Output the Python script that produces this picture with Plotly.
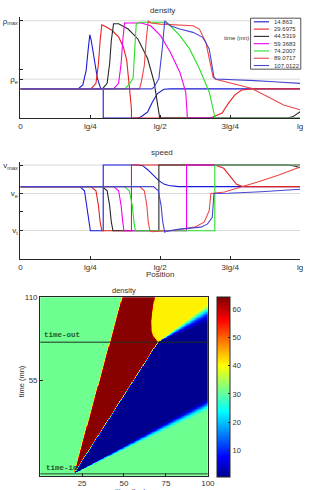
import numpy as np
import plotly.graph_objects as go

W, H = 310, 490
def fx(p):  # pixel -> paper x
    return p / W
def fy(p):  # pixel -> paper y
    return 1 - p / H

# ---------------- data ----------------
times = ["14.863", "29.6975", "44.5319", "59.3683", "74.2007", "89.0717", "107.0122"]
colors = ["rgb(25,25,215)", "rgb(228,35,35)", "rgb(40,40,40)", "rgb(240,0,240)",
          "rgb(40,225,40)", "rgb(236,70,70)", "rgb(70,70,212)"]

x_ticks = [0, 0.25, 0.5, 0.75, 1.0]
x_ticktext = ["0", "lg/4", "lg/2", "3lg/4", "lg"]

# density profiles (x as fraction of lg, density as fraction of rho_max)
rho_x = [
    [0, 0.206, 0.223, 0.235, 0.242, 0.248, 0.253, 0.264, 0.275, 0.285, 0.288, 0.296, 0.296, 0.42, 0.432, 0.455, 0.472, 0.49, 0.513, 0.536, 1.0],
    [0, 0.252, 0.270, 0.279, 0.285, 0.291, 0.304, 0.328, 0.351, 0.368, 0.380, 0.388, 0.394, 0.397, 0.397, 0.68, 0.692, 0.721, 0.744, 0.767, 0.791, 0.825, 1.0],
    [0, 0.293, 0.310, 0.319, 0.325, 0.333, 0.351, 0.385, 0.420, 0.455, 0.478, 0.492, 0.498, 0.498, 0.955, 0.975, 1.0],
    [0, 0.333, 0.351, 0.360, 0.366, 0.372, 0.385, 0.432, 0.466, 0.501, 0.536, 0.570, 0.591, 0.596, 0.597, 1.0],
    [0, 0.374, 0.391, 0.403, 0.409, 0.414, 0.426, 0.513, 0.536, 0.570, 0.605, 0.640, 0.675, 0.692, 0.695, 0.696, 1.0],
    [0, 0.426, 0.432, 0.443, 0.449, 0.457, 0.466, 0.501, 0.617, 0.640, 0.663, 0.681, 0.689, 0.698, 0.767, 0.825, 0.883, 0.941, 1.0],
    [0, 0.470, 0.478, 0.495, 0.507, 0.516, 0.536, 0.570, 0.617, 0.652, 0.675, 0.686, 0.692, 0.698, 0.767, 0.837, 0.906, 1.0],
]
rho_y = [
    [0.30, 0.30, 0.34, 0.49, 0.70, 0.857, 0.80, 0.595, 0.41, 0.32, 0.30, 0.30, 0.0, 0.0, 0.013, 0.064, 0.166, 0.252, 0.296, 0.30, 0.30],
    [0.30, 0.30, 0.357, 0.561, 0.80, 0.959, 0.942, 0.90, 0.834, 0.73, 0.595, 0.39, 0.187, 0.085, 0.0, 0.0, 0.017, 0.051, 0.153, 0.238, 0.289, 0.30, 0.30],
    [0.30, 0.30, 0.357, 0.561, 0.80, 0.969, 0.969, 0.915, 0.813, 0.609, 0.37, 0.133, 0.013, 0.0, 0.0, 0.015, 0.065],
    [0.30, 0.30, 0.357, 0.561, 0.80, 0.976, 0.977, 0.977, 0.949, 0.847, 0.677, 0.472, 0.268, 0.013, 0.0, 0.0],
    [0.30, 0.30, 0.357, 0.408, 0.714, 0.966, 0.985, 0.985, 0.949, 0.847, 0.711, 0.507, 0.268, 0.064, 0.013, 0.0, 0.0],
    [0.30, 0.30, 0.37, 0.54, 0.779, 1.0, 0.977, 0.966, 0.949, 0.915, 0.779, 0.541, 0.421, 0.398, 0.35, 0.306, 0.221, 0.134, 0.085],
    [0.30, 0.30, 0.319, 0.405, 0.711, 1.0, 0.949, 0.915, 0.881, 0.83, 0.711, 0.541, 0.421, 0.401, 0.395, 0.385, 0.374, 0.357],
]

# speed profiles (x as fraction of lg, speed as fraction of v_max)
v_x = [
    [0, 0.212, 0.229, 0.237, 0.244, 0.25, 0.296, 0.296, 0.42, 0.4375, 0.455, 0.472, 0.495, 0.513, 0.53, 0.565, 1.0],
    [0, 0.252, 0.270, 0.279, 0.285, 0.291, 0.397, 0.397, 0.691, 0.698, 0.727, 0.75, 0.773, 0.796, 1.0],
    [0, 0.293, 0.310, 0.319, 0.325, 0.331, 0.495, 0.495, 0.955, 0.98, 1.0],
    [0, 0.333, 0.351, 0.360, 0.366, 0.370, 0.594, 0.594, 1.0],
    [0, 0.372, 0.389, 0.400, 0.406, 0.411, 0.695, 0.695, 1.0],
    [0, 0.426, 0.443, 0.452, 0.457, 0.463, 0.47, 0.55, 0.623, 0.657, 0.675, 0.681, 0.73, 0.795, 0.854, 0.924, 1.0],
    [0, 0.476, 0.493, 0.503, 0.509, 0.516, 0.524, 0.576, 0.646, 0.669, 0.686, 0.692, 0.744, 0.86, 1.0],
]
v_y = [
    [0.77, 0.77, 0.726, 0.567, 0.391, 0.30, 0.30, 1.0, 1.0, 0.993, 0.95, 0.90, 0.834, 0.797, 0.781, 0.77, 0.77],
    [0.77, 0.77, 0.726, 0.567, 0.391, 0.30, 0.30, 1.0, 1.0, 0.997, 0.965, 0.884, 0.795, 0.77, 0.77],
    [0.77, 0.77, 0.726, 0.567, 0.391, 0.30, 0.30, 1.0, 1.0, 0.99, 0.97],
    [0.77, 0.77, 0.726, 0.567, 0.391, 0.30, 0.30, 1.0, 1.0],
    [0.77, 0.77, 0.726, 0.567, 0.391, 0.30, 0.30, 1.0, 1.0],
    [0.77, 0.77, 0.726, 0.567, 0.391, 0.30, 0.29, 0.305, 0.338, 0.391, 0.514, 0.697, 0.713, 0.768, 0.825, 0.894, 0.978],
    [0.77, 0.77, 0.726, 0.567, 0.391, 0.285, 0.296, 0.32, 0.338, 0.373, 0.443, 0.697, 0.70, 0.715, 0.742],
]

rho_levels = [0.40, 1.0]          # rho_e, rho_max gridlines
rho_tickvals = [0.40, 1.0]
rho_ticktext = ["ρ<sub>e</sub>", "ρ<sub>max</sub>"]
v_levels = [0.303, 0.697, 1.0]    # v_t, v_e, v_max gridlines
v_tickvals = [0.303, 0.697, 1.0]
v_ticktext = ["v<sub>t</sub>", "v<sub>e</sub>", "v<sub>max</sub>"]
mid_tick = [0.5]

# heatmap (space-time density)
rho_free = 31.0
rho_jam = 64.0
time_in = -6.8
time_out = 80.3
jam_edge_time = [-6.8, 110.0]
jam_edge_pos = [20.1, 49.0]
vehicle_time = [-6.8, 80.3]
vehicle_pos = [20.1, 70.3]
release_edge_time = [80.3, 84.2, 87.5, 94.1, 100.6, 110.0]
release_edge_pos = [70.3, 67.6, 66.6, 66.4, 67.0, 68.3]
front_fan_speed = [1.58, 1.64, 1.70, 1.77, 1.84, 1.92]
front_fan_rho = [0.7, 3.0, 10.0, 20.0, 27.0, 31.0]
release_fan_speed = [1.15, 1.25, 1.43, 1.60, 1.85, 2.30]
release_fan_rho = [41.0, 36.0, 22.0, 12.0, 5.0, 0.7]
hm_pos = np.linspace(0, 100, 321)
hm_time = np.linspace(-8.1, 110, 300)
cbar_ticks = [10, 20, 30, 40, 50, 60]

# ---------------- heatmap field ----------------
P, T = np.meshgrid(hm_pos, hm_time)
def ramp(u):
    u = np.clip(u, 0, 1)
    return u * u * (3 - 2 * u)
edge_w = 1.1
s_front = (P - vehicle_pos[0]) / np.maximum(T - vehicle_time[0], 1e-6)
front_val = np.interp(s_front, front_fan_speed, front_fan_rho)
jamL = np.interp(T, jam_edge_time, jam_edge_pos)
veh = np.interp(T, vehicle_time, vehicle_pos)
w_left = ramp((P - jamL) / edge_w + 0.5)
w_veh = ramp((P - veh) / edge_w + 0.5)
before = rho_jam * (1 - w_veh) + front_val * w_veh
rel = np.interp(T, release_edge_time, release_edge_pos)
s_rel = (P - vehicle_pos[-1]) / np.maximum(T - time_out, 1e-6)
rel_val = np.interp(s_rel, release_fan_speed, release_fan_rho)
w_rel = ramp((P - rel) / 0.8 + 0.5)
after = rho_jam * (1 - w_rel) + rel_val * w_rel
inner = np.where(T <= time_out, before, after)
Z = rho_free * (1 - w_left) + w_left * inner
Z = np.where(T < vehicle_time[0], rho_free, Z)
Z = np.round(Z, 2)

jet = [[0.0, "rgb(0,0,143)"], [0.111, "rgb(0,0,255)"], [0.365, "rgb(0,255,255)"],
       [0.619, "rgb(255,255,0)"], [0.873, "rgb(255,0,0)"], [1.0, "rgb(128,0,0)"]]

# ---------------- figure ----------------
fig = go.Figure()
for i in range(7):
    fig.add_trace(go.Scatter(x=rho_x[i], y=rho_y[i], mode="lines",
                             line=dict(color=colors[i], width=1.1),
                             xaxis="x", yaxis="y", showlegend=False, hoverinfo="skip"))
for i in range(7):
    fig.add_trace(go.Scatter(x=v_x[i], y=v_y[i], mode="lines",
                             line=dict(color=colors[i], width=1.1),
                             xaxis="x2", yaxis="y2", showlegend=False, hoverinfo="skip"))

fig.add_trace(go.Heatmap(x=hm_pos, y=hm_time, z=Z, colorscale=jet, zmin=0.7, zmax=64.5,
                         xaxis="x3", yaxis="y3", hoverinfo="skip",
                         colorbar=dict(x=fx(221.7), xanchor="left", xpad=0,
                                       y=fy(385.7), yanchor="middle", ypad=0,
                                       len=180, lenmode="pixels",
                                       thickness=12.6, thicknessmode="pixels",
                                       tickvals=cbar_ticks, ticks="inside", ticklen=2,
                                       tickcolor="#262626",
                                       outlinewidth=1, outlinecolor="#262626",
                                       tickfont=dict(size=7.5, color="#333"))))

axis_common = dict(showline=True, linecolor="#262626", linewidth=1, ticks="inside",
                   ticklen=3, tickcolor="#262626", showgrid=False, zeroline=False,
                   tickfont=dict(size=8, color="#333"))
minor_mid = dict(tickvals=mid_tick, ticks="inside", ticklen=3, tickcolor="#262626", showgrid=False)

fig.update_layout(
    width=W, height=H, margin=dict(l=0, r=0, t=0, b=0),
    paper_bgcolor="white", plot_bgcolor="white",
    font=dict(family="Liberation Sans, Arial, sans-serif", color="#333"),
    xaxis=dict(domain=[fx(19), fx(307)], range=[0, 1], anchor="y",
               tickvals=x_ticks, ticktext=x_ticktext, **axis_common),
    yaxis=dict(domain=[fy(115), fy(13.4)], range=[0, 1.036], anchor="x",
               tickvals=rho_tickvals, ticktext=rho_ticktext, minor=minor_mid, **axis_common),
    xaxis2=dict(domain=[fx(19), fx(307)], range=[0, 1], anchor="y2",
                tickvals=x_ticks, ticktext=x_ticktext, **axis_common),
    yaxis2=dict(domain=[fy(257), fy(159.5)], range=[0, 1.03], anchor="x2",
                tickvals=v_tickvals, ticktext=v_ticktext, minor=minor_mid, **axis_common),
    xaxis3=dict(domain=[fx(39.3), fx(212)], range=[0, 100], anchor="y3", mirror=True,
                tickvals=[25, 50, 75, 100], **axis_common),
    yaxis3=dict(domain=[fy(475.7), fy(295.7)], range=[-8.1, 110], anchor="x3", mirror=True,
                tickvals=[55, 110], **axis_common),
)

shapes = []
for lv in rho_levels:
    shapes.append(dict(type="line", xref="x", yref="y", x0=0, x1=1, y0=lv, y1=lv,
                       line=dict(color="#d9d9d9", width=1), layer="below"))
for lv in v_levels:
    shapes.append(dict(type="line", xref="x2", yref="y2", x0=0, x1=1, y0=lv, y1=lv,
                       line=dict(color="#d9d9d9", width=1), layer="below"))
# time-in / time-out markers on heatmap
shapes.append(dict(type="line", xref="x3", yref="y3", x0=0, x1=100, y0=time_out, y1=time_out,
                   line=dict(color="#1e2e22", width=1)))
shapes.append(dict(type="line", xref="x3", yref="y3", x0=0, x1=100, y0=time_in, y1=time_in,
                   line=dict(color="#2a4a32", width=1)))
# manual legend
shapes.append(dict(type="rect", xref="paper", yref="paper", x0=fx(256), x1=fx(307.7),
                   y0=fy(65.7), y1=fy(14.3), line=dict(color="#262626", width=0.8),
                   fillcolor="white"))
annotations = []
for i in range(7):
    yc = 14.3 + 3.67 + i * 7.34
    shapes.append(dict(type="line", xref="paper", yref="paper", x0=fx(259.3), x1=fx(275),
                       y0=fy(yc), y1=fy(yc), line=dict(color=colors[i], width=1.1)))
    annotations.append(dict(text=times[i], xref="paper", yref="paper", x=fx(278.3), y=fy(yc),
                            xanchor="left", yanchor="middle", showarrow=False,
                            font=dict(size=6, color="#333")))
fig.update_layout(shapes=shapes)

annotations += [
    dict(text="time (mn)", x=fx(241.5), y=fy(34.3), font=dict(size=6, color="#333")),
    dict(text="density", x=fx(165), y=fy(6.5), font=dict(size=8, color="#333")),
    dict(text="speed", x=fx(165), y=fy(149.5), font=dict(size=8, color="#333")),
    dict(text="Position", x=fx(163), y=fy(273), font=dict(size=8, color="#333")),
    dict(text="density", x=fx(125.5), y=fy(289), font=dict(size=7.5, color="#333")),
    dict(text="position (km)", x=fx(125.7), y=fy(484.8), yanchor="top", font=dict(size=7.5, color="#333")),
    dict(text="time (mn)", x=fx(20), y=fy(380), textangle=-90, font=dict(size=7.5, color="#333")),
]
for a in annotations:
    a.setdefault("xref", "paper")
    a.setdefault("yref", "paper")
    a.setdefault("showarrow", False)
    a.setdefault("xanchor", "center")
    a.setdefault("yanchor", "middle")
annotations += [
    dict(text="<b>time-out</b>", xref="x3", yref="y3", x=1.3, y=85.3, xanchor="left",
         yanchor="middle", showarrow=False,
         font=dict(family="Liberation Mono, Courier New, monospace", size=7.5, color="#1f5a30")),
    dict(text="<b>time-in</b>", xref="x3", yref="y3", x=2.2, y=-2.6, xanchor="left",
         yanchor="middle", showarrow=False,
         font=dict(family="Liberation Mono, Courier New, monospace", size=7.5, color="#1f5a30")),
]
fig.update_layout(annotations=annotations)

fig.write_html("out.html")
